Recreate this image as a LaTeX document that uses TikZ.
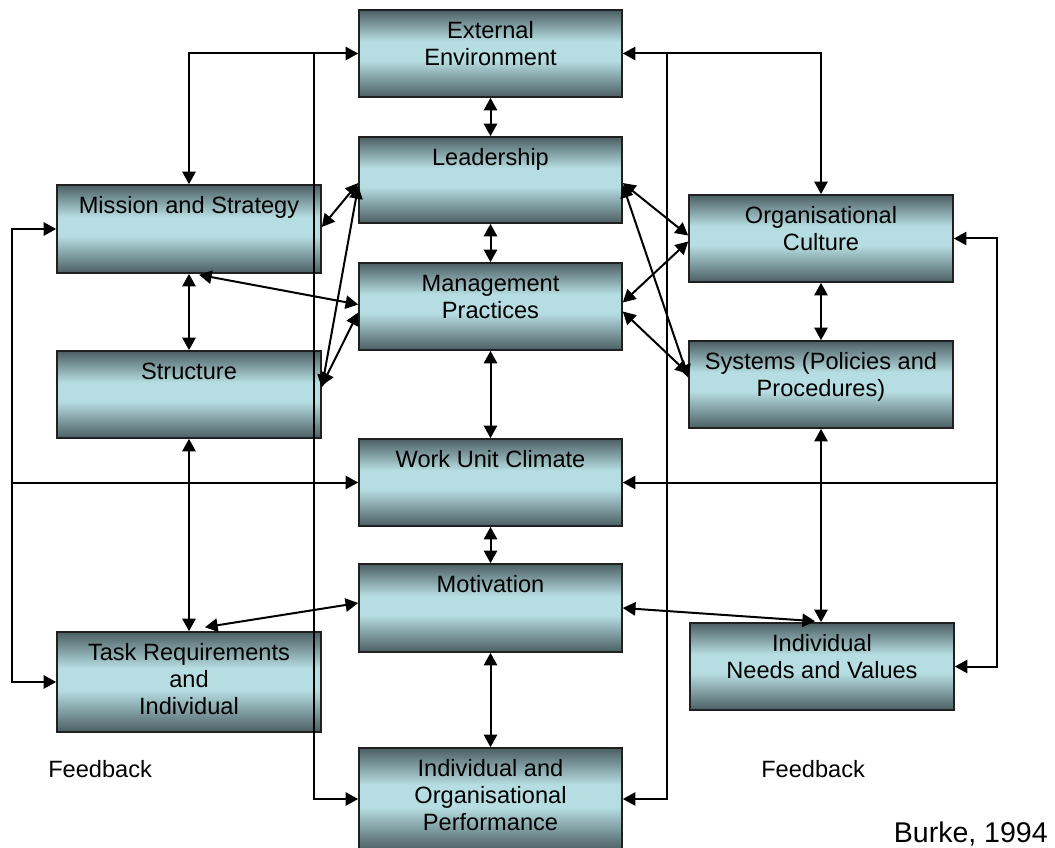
\documentclass[tikz,border=0pt]{standalone}
\usepackage{fontspec}
\setmainfont{Liberation Sans}
\usetikzlibrary{arrows.meta,calc,fit}

\definecolor{bxdark}{HTML}{4B5F63}
\definecolor{bxlight}{HTML}{B6DDE1}
\definecolor{bxline}{HTML}{202020}
% dark at top and bottom, light band a little above the middle
\pgfdeclareverticalshading{boxshade}{100bp}{color(0bp)=(bxdark); color(25bp)=(bxdark); color(46bp)=(bxlight); color(57bp)=(bxlight); color(75bp)=(bxdark); color(100bp)=(bxdark)}

\newcommand\fst{\rule{0pt}{17pt}}

\begin{document}
\begin{tikzpicture}[x=0.75pt,y=-0.75pt,
  >={Triangle[length=9.5pt,width=10pt]},
  box/.style={draw=bxline, line width=1.2pt, shading=boxshade, inner sep=0pt, rectangle},
  lbl/.style={font=\fontsize{17.7}{20.25}\selectfont, align=center, anchor=north, inner sep=0pt, text=black},
  note/.style={font=\fontsize{17.7}{20.25}\selectfont, inner sep=0pt, text=black},
  link/.style={line width=1.5pt, draw=black},
  both/.style={link, <->},
  one/.style={link, ->}]

\useasboundingbox (0,0) rectangle (1055,848);

% ---- boxes ----
\node[box, fit={(359,10) (622,97)}]   (ext)  {};
\node[box, fit={(359,137) (622,223)}] (lead) {};
\node[box, fit={(359,263) (622,350)}] (mgmt) {};
\node[box, fit={(359,439) (622,526)}] (wuc)  {};
\node[box, fit={(359,564) (622,652)}] (mot)  {};
\node[box, fit={(359,748) (622,850)}] (perf) {};
\node[box, fit={(57,185) (321,273)}]  (mis)  {};
\node[box, fit={(57,351) (321,438)}]  (str)  {};
\node[box, fit={(57,632) (321,732)}]  (task) {};
\node[box, fit={(689,195) (953,282)}] (org)  {};
\node[box, fit={(689,341) (953,428)}] (sys)  {};
\node[box, fit={(690,623) (954,710)}] (need) {};

% ---- box texts ----
\node[lbl] (ext-t)  at ($(ext.north)+(0,6.8)$)  {\fst External\\Environment};
\node[lbl] (lead-t) at ($(lead.north)+(0,6.8)$) {\fst Leadership};
\node[lbl] (mgmt-t) at ($(mgmt.north)+(0,6.8)$) {\fst Management\\Practices};
\node[lbl] (wuc-t)  at ($(wuc.north)+(0,6.8)$)  {\fst Work Unit Climate};
\node[lbl] (mot-t)  at ($(mot.north)+(0,6.8)$)  {\fst Motivation};
\node[lbl] (perf-t) at ($(perf.north)+(0,6.8)$) {\fst Individual and\\Organisational\\Performance};
\node[lbl] (mis-t)  at ($(mis.north)+(0,6.8)$)  {\fst Mission and Strategy};
\node[lbl] (str-t)  at ($(str.north)+(0,6.8)$)  {\fst Structure};
\node[lbl] (task-t) at ($(task.north)+(0,6.8)$) {\fst Task Requirements\\and\\Individual};
\node[lbl] (org-t)  at ($(org.north)+(0,6.8)$)  {\fst Organisational\\Culture};
\node[lbl] (sys-t)  at ($(sys.north)+(0,6.8)$)  {\fst Systems (Policies and\\Procedures)};
\node[lbl] (need-t) at ($(need.north)+(0,6.8)$) {\fst Individual\\Needs and Values};

% ---- free texts ----
\node[note, anchor=base west] (fbl) at (48,777) {Feedback};
\node[note, anchor=base west] (fbr) at (761,777) {Feedback};
\node[inner sep=0pt, anchor=base east, font=\fontsize{21.4}{24}\selectfont] (src) at (1048,842) {Burke, 1994};

% ---- junction points of the feedback loops ----
\coordinate (fl) at (12,482.5);
\coordinate (fr) at (997,482.5);
\coordinate (tl) at (314,53.5);
\coordinate (tr) at (667,53.5);

% ---- central column ----
\draw[both] (ext.south)  -- (lead.north);
\draw[both] (lead.south) -- (mgmt.north);
\draw[both] (mgmt.south) -- (wuc.north);
\draw[both] (wuc.south)  -- (mot.north);
\draw[both] (mot.south)  -- (perf.north);

% ---- left column ----
\draw[both] (mis.south) -- (str.north);
\draw[both] (str.south) -- (task.north);

% ---- right column ----
\draw[both] (org.south) -- (sys.north);
\draw[both] (sys.south) -- (sys.south |- need.north);

% ---- diagonal links ----
\draw[both] ($(mis.east)+(0,-2)$)   -- ($(lead.west)+(0,3)$);
\draw[both] ($(str.east)+(0,-7)$)   -- ($(lead.west)+(0,6)$);
\draw[both] ($(str.east)+(0,-9)$)   -- ($(mgmt.west)+(0,6)$);
\draw[both] ($(mis.south)+(10,1)$)  -- ($(mgmt.west)+(0,-2)$);
\draw[both] ($(lead.east)+(0,3)$)   -- ($(org.west)+(0,-3)$);
\draw[both] ($(lead.east)+(0,5)$)   -- ($(sys.west)+(0,-7)$);
\draw[both] ($(mgmt.east)+(0,-4)$)  -- ($(org.west)+(0,3)$);
\draw[both] ($(mgmt.east)+(0,5)$)   -- ($(sys.west)+(0,-11)$);
\draw[both] ($(mot.west)+(0,-5)$)   -- ($(task.north)+(16,-4)$);
\draw[both] (mot.east)              -- ($(need.north)+(-7,-1)$);

% ---- feedback loops ----
\draw[both] (mis.west) -| (fl) |- (task.west);
\draw[one]  (fl) -- (wuc.west);
\draw[both] (org.east) -| (fr) |- (need.east);
\draw[one]  (fr) -- (wuc.east);
\draw[both] (mis.north) |- (ext.west);
\draw[one]  (tl) |- (perf.west);
\draw[both] (ext.east) -| (org.north);
\draw[one]  (tr) |- (perf.east);

\end{tikzpicture}
\end{document}
